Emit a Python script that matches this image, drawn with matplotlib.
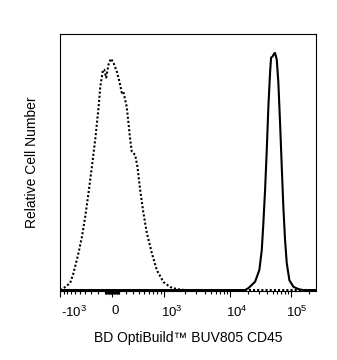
"""Histograma de citometría: BD OptiBuild BUV805 CD45 en escala logicle."""
import numpy as np
import matplotlib
matplotlib.use("Agg")
import matplotlib.pyplot as plt
from matplotlib.ticker import FixedLocator, NullFormatter
from matplotlib.transforms import ScaledTranslation

plt.rcParams["font.family"] = ["Liberation Sans", "DejaVu Sans"]
plt.rcParams["mathtext.fontset"] = "custom"
plt.rcParams["mathtext.rm"] = "Liberation Sans"
plt.rcParams["mathtext.it"] = "Liberation Sans:italic"

# parámetros logicle (T, W, M, A)
T, W, M, A = 262144.0, 0.55, 3.95, 0.32

# control sin teñir (línea punteada): intensidad y número relativo
ctrl_x = [-1007, -975, -852, -718, -638, -531, -464, -404, -347, -292, -241,
          -190, -166, -128, -110, -83, -51, -18, 18, 65, 101, 134, 156, 205,
          231, 257, 283, 336, 375, 422, 483, 551, 662, 788, 985, 1232, 1540,
          2035, 5000, 50000, 262144]
ctrl_y = [0.0, 0.002, 0.013, 0.030, 0.072, 0.156, 0.224, 0.308, 0.410, 0.520,
          0.634, 0.773, 0.858, 0.929, 0.929, 0.896, 0.951, 0.976, 0.959,
          0.921, 0.879, 0.832, 0.837, 0.773, 0.706, 0.634, 0.583, 0.570,
          0.520, 0.422, 0.325, 0.241, 0.156, 0.084, 0.034, 0.013, 0.004,
          0.0, 0.0, 0.0, 0.0]

# células teñidas CD45 (línea continua)
cd45_x = [-1007, 1000, 10000, 17602, 19930, 25657, 30192, 33062, 35127, 37465,
          39961, 42462, 45292, 47048, 50192, 52731, 54778, 58437, 62110,
          66270, 70709, 75154, 80193, 85566, 94500, 110110, 133210, 160000,
          262144]
cd45_y = [0.0, 0.0, 0.0, 0.0, 0.008, 0.035, 0.085, 0.169, 0.283, 0.422,
          0.591, 0.773, 0.917, 0.980, 0.986, 0.997, 1.0, 0.972, 0.875, 0.706,
          0.520, 0.351, 0.211, 0.114, 0.042, 0.014, 0.004, 0.0, 0.0]

major_ticks = [-1000, 0, 1000, 10000, 100000]
major_labels = ["-$10^3$", "0", "$10^3$", "$10^4$", "$10^5$"]


def logicle(T, W, M, A):
    w = W / (M + A)
    x2 = A / (M + A)
    x1 = x2 + w
    x0 = x2 + 2 * w
    b = (M + A) * np.log(10)
    lo, hi = 1e-9, b
    for _ in range(200):
        mid = 0.5 * (lo + hi)
        if 2 * (np.log(mid) - np.log(b)) + w * (b + mid) > 0:
            hi = mid
        else:
            lo = mid
    d = 0.5 * (lo + hi)
    c_a = np.exp(x0 * (b + d))
    mf_a = np.exp(b * x1) - c_a * np.exp(-d * x1)
    a = T / (np.exp(b) - mf_a - c_a * np.exp(-d))
    c = c_a * a
    f = -mf_a * a

    def inverse(y):
        y = np.asarray(y, dtype=float)
        neg = y < x1
        yy = np.where(neg, 2 * x1 - y, y)
        v = a * np.exp(b * yy) - c * np.exp(-d * yy) + f
        return np.where(neg, -v, v)

    grid = np.linspace(-0.4, 1.4, 40001)
    vals = inverse(grid)

    def forward(v):
        return np.interp(np.asarray(v, dtype=float), vals, grid)

    return forward, inverse


fwd, inv = logicle(T, W, M, A)

minor_ticks = []
for e in range(1, 5):
    for k in range(1, 10):
        v = k * 10 ** e
        if v not in major_ticks:
            minor_ticks.append(v)
        if -v not in major_ticks and v < 1000:
            minor_ticks.append(-v)
minor_ticks.append(200000)

fig = plt.figure(figsize=(3.37, 3.6), dpi=100)
ax = fig.add_axes([60 / 337, 1 - 291 / 360, 256 / 337, 257 / 360])
ax.set_xscale("function", functions=(fwd, inv))

ax.plot(ctrl_x, ctrl_y, color="black", lw=1.5, ls=(0, (1, 1)))
ax.plot(cd45_x, cd45_y, color="black", lw=1.5)

ax.set_xlim(float(inv(0.0)), T)
ax.set_ylim(-0.004, 1.08)

ax.xaxis.set_major_locator(FixedLocator(major_ticks))
ax.xaxis.set_minor_locator(FixedLocator(minor_ticks))
ax.xaxis.set_minor_formatter(NullFormatter())
ax.set_xticklabels(major_labels)
ax.tick_params(axis="x", which="major", length=4, width=0.8, pad=6,
               labelsize=9.5)
ax.tick_params(axis="x", which="minor", length=2.2, width=0.8)
ax.tick_params(axis="y", left=False, labelleft=False)

# etiquetas ligeramente desplazadas a la derecha de su marca
shifts = [14, 3, 8, 7, 6]
for lab, dx in zip(ax.get_xticklabels(), shifts):
    lab.set_transform(lab.get_transform() +
                      ScaledTranslation(dx / 100, 0, fig.dpi_scale_trans))

for s in ax.spines.values():
    s.set_linewidth(0.8)

ax.set_xlabel("BD OptiBuild™ BUV805 CD45", fontsize=10, labelpad=8)
ax.set_ylabel("Relative Cell Number", fontsize=10, labelpad=15)

fig.savefig("out.png", dpi=100)
